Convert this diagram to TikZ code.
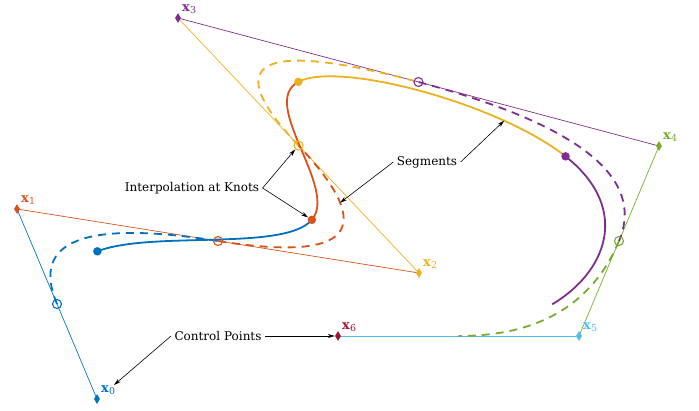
\documentclass[tikz,border=0pt]{standalone}
\usepackage{fontspec}
\setmainfont{DejaVu Serif}
\usetikzlibrary{calc,shapes.geometric,arrows.meta}
\definecolor{c0}{rgb}{0,0.447,0.741}
\definecolor{c1}{rgb}{0.85,0.325,0.098}
\definecolor{c2}{rgb}{0.929,0.694,0.125}
\definecolor{c3}{rgb}{0.494,0.184,0.556}
\definecolor{c4}{rgb}{0.466,0.674,0.188}
\definecolor{c5}{rgb}{0.301,0.745,0.933}
\definecolor{c6}{rgb}{0.635,0.078,0.184}
\newcommand{\ptname}[1]{\textbf{x}\raisebox{-0.4ex}{\fontsize{9.5}{10}\selectfont#1}}
\begin{document}
\begin{tikzpicture}[x=1pt,y=-1pt,font=\fontsize{12}{14}\selectfont,
  ctrl/.style={fill=#1,diamond,inner sep=0pt,minimum width=6pt,minimum height=10pt},
  xlabel/.style={anchor=base west,text=#1,inner sep=0pt,font=\fontsize{13}{14}\selectfont},
  poly/.style={draw=#1,line width=0.7pt},
  knot/.style={circle,fill=#1,inner sep=0pt,minimum size=8.5pt},
  mid/.style={circle,draw=#1,line width=1.1pt,inner sep=0pt,minimum size=9pt},
  seg/.style={draw=#1,line width=1.8pt},
  quad/.style={draw=#1,line width=1.8pt,dash pattern=on 8pt off 6pt},
  note/.style={->,>={Stealth[length=7pt,width=4pt]},line width=0.6pt}]
\useasboundingbox (0,0) rectangle (699,410);
\foreach \i/\p/\q in {0/97/399,1/17/209,2/419/273,3/178/18,4/659/146,5/579/336,6/338/336}
  \coordinate (x\i) at (\p,\q);
\foreach \h/\i in {0/1,1/2,2/3,3/4,4/5,5/6}
  \coordinate (m\h\i) at ($(x\h)!0.5!(x\i)$);
\foreach \h/\i/\j in {0/1/2,1/2/3,2/3/4,3/4/5,4/5/6}
  \coordinate (k\h) at ($0.16667*(x\h)+0.66667*(x\i)+0.16667*(x\j)$);

% control polygon
\foreach \h/\i in {0/1,1/2,2/3,3/4,4/5,5/6}
  \draw[poly=c\h] (x\h) -- (x\i);

% quadratic pieces
\foreach \h/\i/\j in {0/1/2,1/2/3,2/3/4,3/4/5,4/5/6}
  \draw[quad=c\h] (m\h\i) .. controls ($(m\h\i)!2/3!(x\i)$) and ($(m\i\j)!2/3!(x\i)$) .. (m\i\j)
    coordinate[pos=0.73] (q\h);

% cubic pieces
\foreach \h/\i/\j in {0/1/2,1/2/3,2/3/4,3/4/5}
  \draw[seg=c\h] (k\h) .. controls ($(x\i)!1/3!(x\j)$) and ($(x\i)!2/3!(x\j)$) .. (k\i)
    coordinate[pos=0.76] (s\h);

\foreach \h/\i in {0/1,1/2,2/3,3/4,4/5}
  \node[mid=c\h] (md\h) at (m\h\i) {};
\foreach \h in {0,...,3}
  \node[knot=c\h] (kd\h) at (k\h) {};
\foreach \i in {0,...,6}{
  \node[ctrl=c\i] (d\i) at (x\i) {};
  \node[xlabel=c\i] (l\i) at ([xshift=4pt,yshift=7pt]x\i) {\ptname{\i}};
}

\node (interp) at (192,188) {Interpolation at Knots};
\node (segs) at (427,162) {Segments};
\node (ctrlpts) at (218,336) {Control Points};
\draw[note] (interp.east) -- (md2);
\draw[note] (interp.east) -- (kd1);
\draw[note] (segs.west) -- (q1);
\draw[note] (segs.east) -- (s2);
\draw[note] (ctrlpts.east) -- (d6);
\draw[note] (ctrlpts.west) -- (l0);
\end{tikzpicture}
\end{document}
